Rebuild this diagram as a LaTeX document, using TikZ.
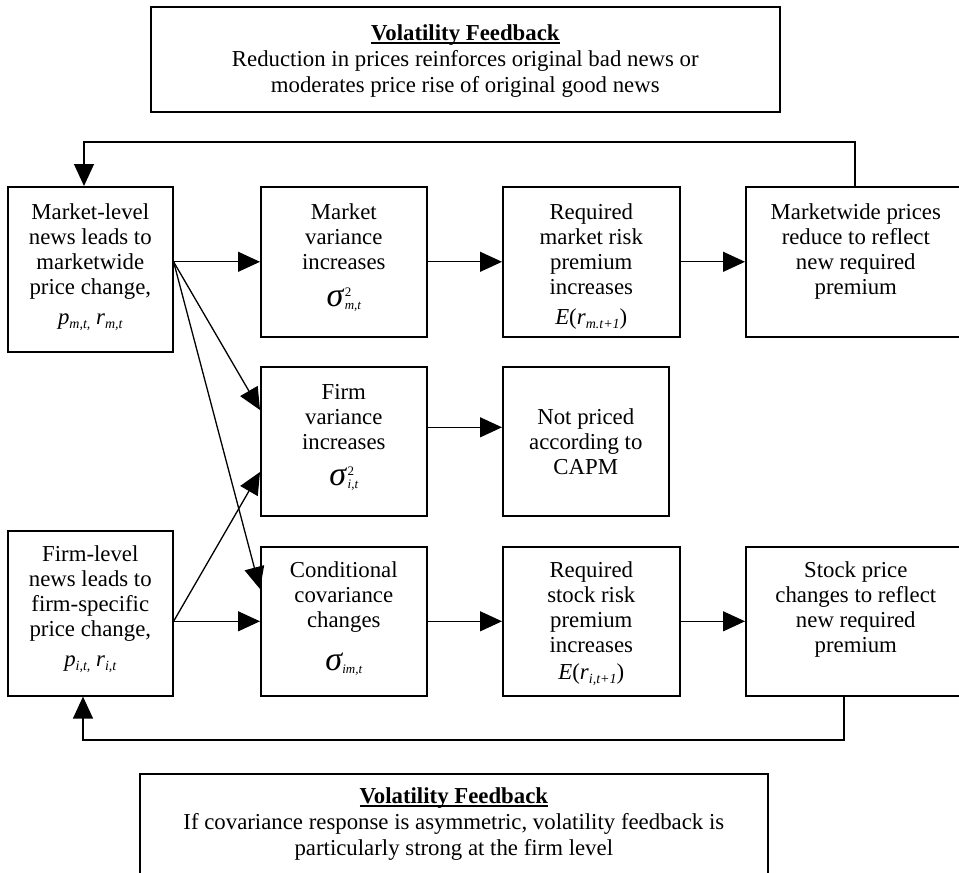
\documentclass[tikz,border=0pt]{standalone}
\usepackage{fontspec}
\setmainfont{Liberation Serif}
\usetikzlibrary{arrows.meta}
\newcommand\fs{\rule{0pt}{18pt}}
\newcommand\sbs[1]{\raisebox{-4pt}{\fontsize{14}{14}\selectfont\itshape #1}}
\newcommand\sigsq[1]{{\fontsize{34}{34}\selectfont\itshape σ}\kern1.5pt\rlap{\raisebox{10pt}{\fontsize{13}{13}\selectfont 2}}\raisebox{-3pt}{\fontsize{13}{13}\selectfont\itshape #1}}
\newcommand\sigsub[1]{{\fontsize{34}{34}\selectfont\itshape σ}\raisebox{-3pt}{\fontsize{13}{13}\selectfont\itshape #1}}
\newcommand\ttl[1]{\setbox0\hbox{\textbf{#1}}\rlap{\vrule height -2pt depth 3.8pt width \wd0}\box0}
\begin{document}
\begin{tikzpicture}[x=1pt,y=-1pt,
  bx/.style={draw, line width=1.6pt, inner sep=0pt, anchor=north west},
  txt/.style={anchor=north, align=center, inner sep=0pt, font=\fontsize{22.8}{25}\selectfont},
  txtw/.style={anchor=north, align=center, inner sep=0pt, font=\fontsize{22.8}{26}\selectfont},
  con/.style={line width=1.3pt, -{Triangle[length=22pt,width=20pt]}},
  ln/.style={line width=1.3pt}]
\useasboundingbox (0,0) rectangle (959,873);
\fill[white] (0,0) rectangle (959,873);
\clip (0,0) rectangle (959,873);

% boxes
\node[bx, minimum width=629pt, minimum height=105pt] (top) at (150,6) {};
\node[bx, minimum width=165pt, minimum height=165pt] (mkt) at (7,186) {};
\node[bx, minimum width=166pt, minimum height=150pt] (mvar) at (260,186) {};
\node[bx, minimum width=177pt, minimum height=150pt] (rmkt) at (502,186) {};
\node[bx, minimum width=220pt, minimum height=150pt] (mwp) at (745,186) {};
\node[bx, minimum width=166pt, minimum height=149pt] (fvar) at (260,366) {};
\node[bx, minimum width=166pt, minimum height=149pt] (np) at (502,366) {};
\node[bx, minimum width=165pt, minimum height=165pt] (firm) at (7,530) {};
\node[bx, minimum width=166pt, minimum height=149pt] (ccov) at (260,546) {};
\node[bx, minimum width=177pt, minimum height=149pt] (rstk) at (502,546) {};
\node[bx, minimum width=220pt, minimum height=149pt] (spc) at (745,546) {};
\node[bx, minimum width=628pt, minimum height=150pt] (bot) at (139,773) {};

% texts
\node[txtw] (top-t) at ([yshift=-16pt]top.north) {\fs\ttl{Volatility Feedback}\\Reduction in prices reinforces original bad news or\\moderates price rise of original good news};
\node[txt] (mkt-t) at ([yshift=-15pt]mkt.north) {\fs Market-level\\news leads to\\marketwide\\price change,\\[5pt]\textit{p}\sbs{m,t,} \textit{r}\sbs{m,t}};
\node[txt] (mvar-t) at ([yshift=-15pt]mvar.north) {\fs Market\\variance\\increases\\[12pt]\sigsq{m,t}};
\node[txt] (rmkt-t) at ([yshift=-15pt]rmkt.north) {\fs Required\\market risk\\premium\\increases\\[5pt]\textit{E}(\textit{r}\sbs{m.t+1})};
\node[txt] (mwp-t) at ([yshift=-15pt]mwp.north) {\fs Marketwide prices\\reduce to reflect\\new required\\premium};
\node[txt] (fvar-t) at ([yshift=-15pt]fvar.north) {\fs Firm\\variance\\increases\\[11pt]\sigsq{i,t}};
\node[txt] (np-t) at ([yshift=-40pt]np.north) {\fs Not priced\\according to\\CAPM};
\node[txt] (firm-t) at ([yshift=-13pt]firm.north) {\fs Firm-level\\news leads to\\firm-specific\\price change,\\[5pt]\textit{p}\sbs{i,t,} \textit{r}\sbs{i,t}};
\node[txt] (ccov-t) at ([yshift=-13pt]ccov.north) {\fs Conditional\\covariance\\changes\\[18pt]\sigsub{im,t}};
\node[txt] (rstk-t) at ([yshift=-13pt]rstk.north) {\fs Required\\stock risk\\premium\\increases\\[2pt]\textit{E}(\textit{r}\sbs{i,t+1})};
\node[txt] (spc-t) at ([yshift=-13pt]spc.north) {\fs Stock price\\changes to reflect\\new required\\premium};
\node[txtw] (bot-t) at ([yshift=-12pt]bot.north) {\fs\ttl{Volatility Feedback}\\If covariance response is asymmetric, volatility feedback is\\particularly strong at the firm level};

% connectors
\draw[con] (mkt.east |- mvar.west) -- (mvar.west);
\draw[con] (mvar.east) -- (rmkt.west);
\draw[con] (rmkt.east) -- (mwp.west);
\draw[con] (mkt.east |- mvar.west) -- ([yshift=-44pt]fvar.north west);
\draw[con] (mkt.east |- mvar.west) -- ([yshift=-43pt]ccov.north west);
\draw[con] (firm.east |- ccov.west) -- ([yshift=-106pt]fvar.north west);
\draw[con] (firm.east |- ccov.west) -- (ccov.west);
\draw[con] ([yshift=14pt]fvar.east) -- ([yshift=14pt]np.west);
\draw[con] (ccov.east) -- (rstk.west);
\draw[con] (rstk.east) -- (spc.west);

\coordinate (fb1) at (855,142);
\coordinate (fb2) at (84,142);
\coordinate (fb3) at (844,740);
\coordinate (fb4) at (83,740);
\draw[con] (mwp.north -| fb1) -- (fb1) -- (fb2) -- (fb2 |- mkt.north);
\draw[con] (spc.south -| fb3) -- (fb3) -- (fb4) -- (fb4 |- firm.south);
\end{tikzpicture}
\end{document}
